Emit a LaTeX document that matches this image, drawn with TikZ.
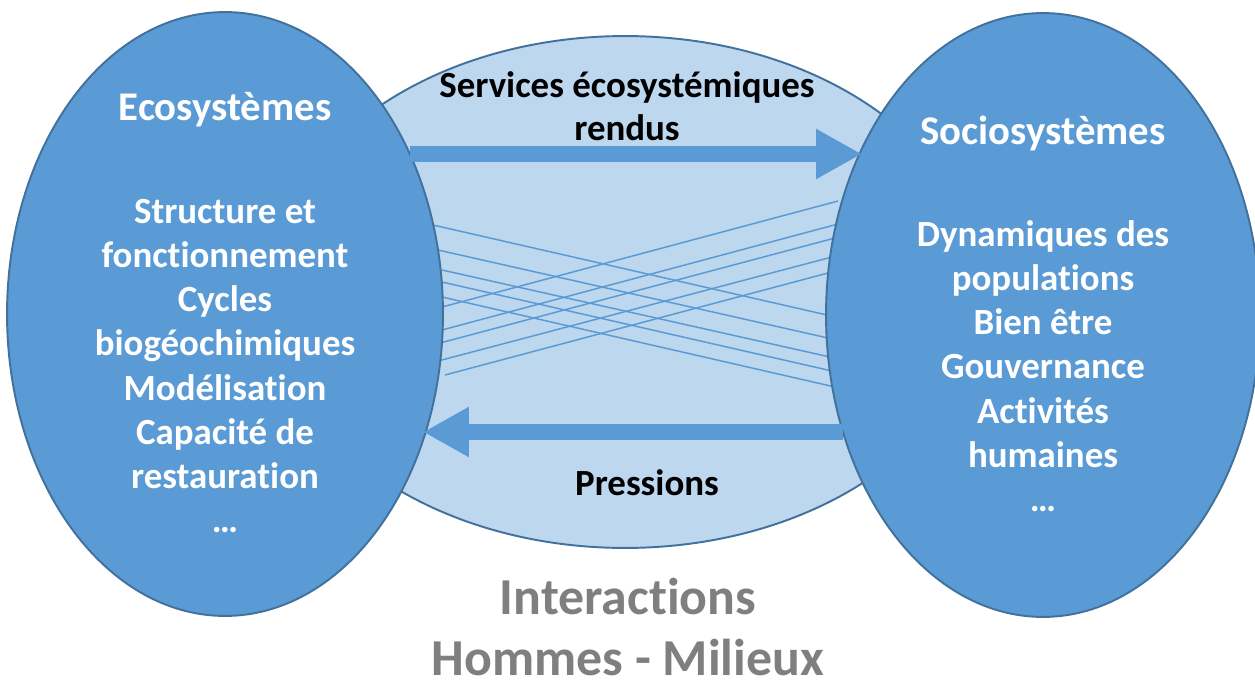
\documentclass[tikz,border=0pt]{standalone}
\usepackage{fontspec}
\setmainfont[Ligatures=NoCommon]{Carlito}
\definecolor{sysblue}{HTML}{5B9BD5}
\definecolor{sysedge}{HTML}{41719C}
\definecolor{pale}{HTML}{BDD7EE}
\definecolor{greytxt}{HTML}{7F7F7F}
\usetikzlibrary{shapes.geometric,arrows.meta,positioning}
\tikzstyle{sys}=[ellipse,draw=sysedge,fill=sysblue,line width=1.1pt,inner sep=0pt]
\tikzstyle{inter}=[ellipse,draw=sysedge,fill=pale,line width=1.1pt,inner sep=0pt]
\tikzstyle{flow}=[sysblue,line width=0.32cm,-{Triangle[length=0.92cm,width=0.94cm]}]
\tikzstyle{cross}=[sysblue,line width=0.85pt]
\tikzstyle{head}=[text=white,font=\fontsize{23.2}{27}\selectfont\bfseries]
\tikzstyle{body}=[text=white,align=center,font=\fontsize{21}{25.2}\selectfont\bfseries]
\tikzstyle{lbl}=[align=center,font=\fontsize{21}{24.4}\selectfont\bfseries]
\tikzstyle{big}=[text=greytxt,align=center,inner sep=0pt,font=\fontsize{29.5}{34.5}\selectfont\bfseries]

\begin{document}
\begin{tikzpicture}[x=0.02cm,y=-0.02cm]
\useasboundingbox (0,0) rectangle (1255,683);

\node[inter,minimum width=14.28cm,minimum height=10.24cm] (mid) at (625,292) {};

% les liens croises
\foreach \xa/\ya/\xb/\yb in {433/225/827/315,438/250/828/338,442/270/830/357,442/282/832/371,442/297/835/387}
  \draw[cross] (\xa,\ya) -- (\xb,\yb);
\foreach \xa/\ya/\xb/\yb in {442/307/838/201,442/330/838/224,440/343/835/238,438/361/832/257,445/375/828/273}
  \draw[cross] (\xa,\ya) -- (\xb,\yb);

\node[sys,minimum width=8.72cm,minimum height=12.08cm] (eco) at (225,314) {};
\node[sys,minimum width=8.68cm,minimum height=12.08cm] (socio) at (1043,315) {};

\coordinate (srvL) at (410,154);
\coordinate (srvR) at (862,154);
\coordinate (prsR) at (843,432);
\coordinate (prsL) at (423,432);
\draw[flow] (srvL) -- (srvR);
\draw[flow] (prsR) -- (prsL);

\node[head] (ecotitle) at (225,110) {Ecosystèmes};
\node[body] (ecobody) at (225,366) {Structure et\\fonctionnement\\Cycles\\biogéochimiques\\Modélisation\\Capacité de\\restauration\\…};

\node[head] (sociotitle) at (1043,133) {Sociosystèmes};
\node[body] (sociobody) at (1043,366) {Dynamiques des\\populations\\Bien être\\Gouvernance\\Activités\\humaines\\…};

\node[lbl] (services) at (627,106) {Services écosystémiques\\rendus};
\node[lbl] (pressions) at (647,483) {Pressions};

\node[big] (interactions) at (628,627) {Interactions\\Hommes - Milieux};
\end{tikzpicture}
\end{document}
